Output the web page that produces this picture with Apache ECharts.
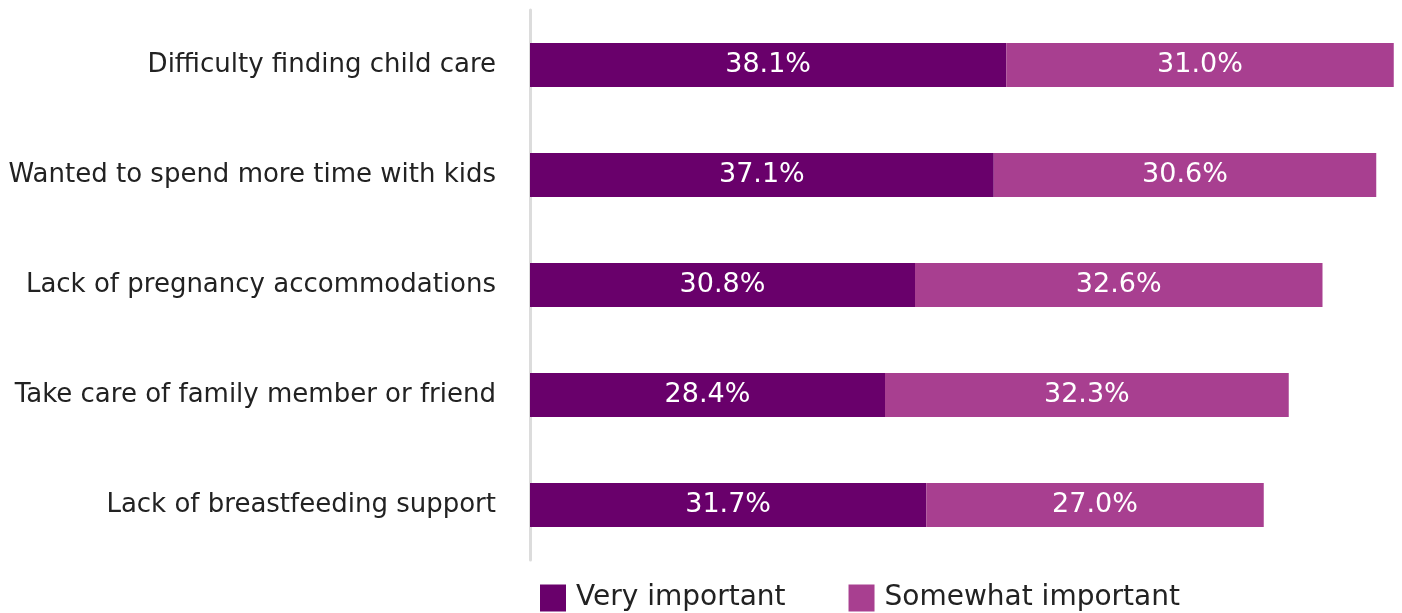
<!DOCTYPE html>
<html><head><meta charset="utf-8">
<script src="https://cdn.jsdelivr.net/npm/echarts@6/dist/echarts.min.js"></script>
<style>html,body{margin:0;padding:0;background:#fff}#c{width:1402px;height:613px}</style>
</head><body><div id="c"></div>
<script>
const categories = ["Difficulty finding child care","Wanted to spend more time with kids","Lack of pregnancy accommodations","Take care of family member or friend","Lack of breastfeeding support"];
const veryImportant = [38.1, 37.1, 30.8, 28.4, 31.7];
const somewhatImportant = [31.0, 30.6, 32.6, 32.3, 27.0];
const seriesNames = ["Very important","Somewhat important"];
const FONT = "'DejaVu Sans', sans-serif";
const chart = echarts.init(document.getElementById('c'));
const lbl = {show:true, position:'inside', color:'#fff', fontSize:27, fontFamily:FONT, formatter:p=>p.value.toFixed(1)+'%'};
chart.setOption({
  animation:false,
  grid:{left:530, right:2, top:10, bottom:53},
  legend:{left:535, top:579, itemWidth:26, itemHeight:27, itemGap:63, icon:'rect',
    textStyle:{fontSize:28, fontFamily:FONT, color:'#222', padding:[0,0,0,5]}, data:seriesNames},
  xAxis:{type:'value', min:0, max:69.6, show:false},
  yAxis:{type:'category', data:categories, inverse:true,
    axisLine:{show:true, lineStyle:{color:'#dcdcdc', width:3}},
    axisTick:{show:false},
    axisLabel:{fontSize:26, fontFamily:FONT, color:'#222', margin:34}},
  series:[
    {name:seriesNames[0], type:'bar', stack:'a', data:veryImportant, barWidth:44, itemStyle:{color:'#69006b'}, label:lbl},
    {name:seriesNames[1], type:'bar', stack:'a', data:somewhatImportant, barWidth:44, itemStyle:{color:'#a83f90'}, label:lbl}
  ]
});
</script></body></html>
